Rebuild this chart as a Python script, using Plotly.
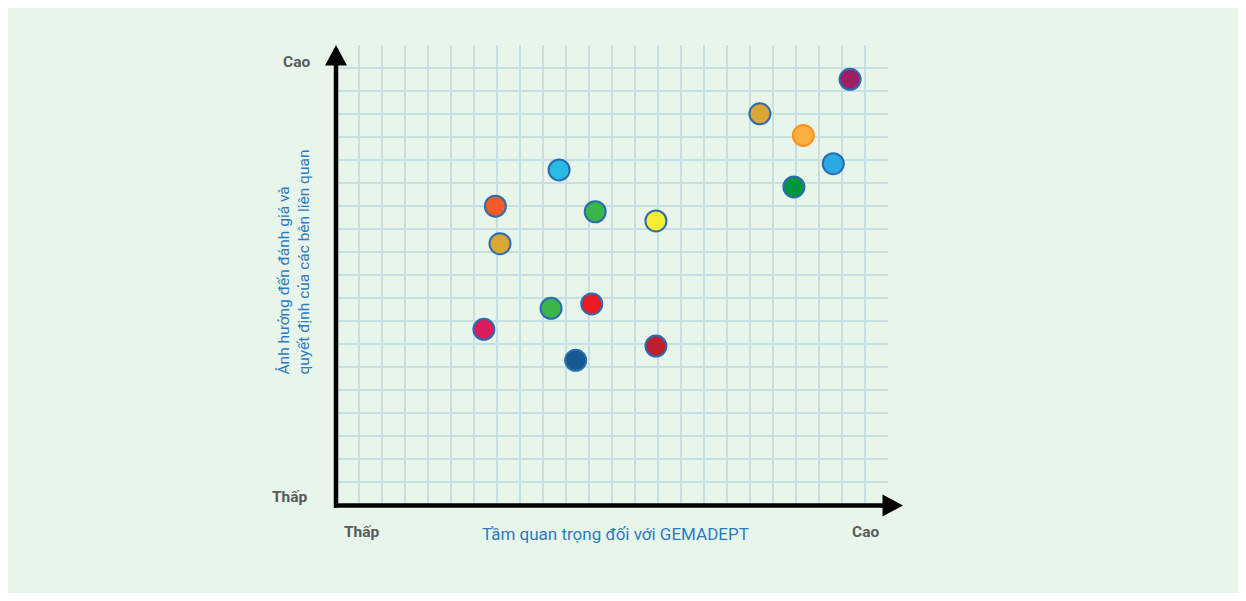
import plotly.graph_objects as go

# Data (grid units: x 0..24, y 0..20)
x_vals = [22.35, 18.43, 20.32, 21.62, 19.91, 9.70, 6.93, 11.27, 13.91, 7.13, 9.35, 11.12, 6.43, 13.91, 10.42]
y_vals = [18.51, 17.01, 16.07, 14.84, 13.83, 14.57, 12.99, 12.75, 12.35, 11.36, 8.55, 8.74, 7.64, 6.91, 6.29]
fill_colors = ["#9E1F63", "#DAA634", "#FBB040", "#29ABE2", "#00953F", "#27BDE2", "#F15A29",
               "#39B54A", "#F9ED32", "#DAA634", "#39B54A", "#ED1C24", "#DA1C5C", "#BE1E2D", "#155A8F"]
edge_colors = ["#2B6CB0"] * 15
edge_colors[2] = "#F7941D"

x_title = "Tầm quan trọng đối với GEMADEPT"
y_title = "Ảnh hưởng đến đánh giá và<br>quyết định của các bên liên quan"
low_label = "Thấp"
high_label = "Cao"

BG = "#E8F5EA"
OFF = 8  # page body margin
W, H = 1230, 585
PW, PH = 552, 460
L, T = 336 - OFF, 45 - OFF
R, B = W - L - PW, H - T - PH


def px(xp):  # page x -> paper
    return (xp - OFF - L) / PW


def py(yp):  # page y -> paper
    return (T + PH - (yp - OFF)) / PH


fig = go.Figure()
fig.add_trace(go.Scatter(
    x=x_vals, y=y_vals, mode="markers",
    marker=dict(size=21, color=fill_colors, line=dict(color=edge_colors, width=2)),
    hoverinfo="skip", showlegend=False, cliponaxis=False,
))

shapes = [
    # axis lines
    dict(type="line", xref="paper", yref="paper", x0=px(336), x1=px(336), y0=py(507.5), y1=py(62),
         line=dict(color="black", width=4.5)),
    dict(type="line", xref="paper", yref="paper", x0=px(334), x1=px(886), y0=py(505.5), y1=py(505.5),
         line=dict(color="black", width=4.5)),
    # arrow heads
    dict(type="path", xref="paper", yref="paper",
         path=f"M {px(325)} {py(65.5)} L {px(336)} {py(45)} L {px(347)} {py(65.5)} Z",
         fillcolor="black", line=dict(width=0)),
    dict(type="path", xref="paper", yref="paper",
         path=f"M {px(882.5)} {py(494.5)} L {px(903)} {py(505.5)} L {px(882.5)} {py(516.5)} Z",
         fillcolor="black", line=dict(width=0)),
]

lab_font = dict(family="Roboto", size=15.5, color="#595A5C")
annotations = [
    dict(text=f"<b>{high_label}</b>", x=px(296), y=py(62), xref="paper", yref="paper",
         showarrow=False, font=lab_font, xanchor="center", yanchor="middle"),
    dict(text=f"<b>{low_label}</b>", x=px(290), y=py(497), xref="paper", yref="paper",
         showarrow=False, font=lab_font, xanchor="center", yanchor="middle"),
    dict(text=f"<b>{low_label}</b>", x=px(362), y=py(532), xref="paper", yref="paper",
         showarrow=False, font=lab_font, xanchor="center", yanchor="middle"),
    dict(text=f"<b>{high_label}</b>", x=px(865), y=py(532), xref="paper", yref="paper",
         showarrow=False, font=lab_font, xanchor="center", yanchor="middle"),
    dict(text=x_title, x=px(615), y=py(534), xref="paper", yref="paper",
         showarrow=False, font=dict(family="Roboto", size=17, color="#2B7BC0"),
         xanchor="center", yanchor="middle"),
    dict(text=y_title, x=px(293), y=py(262.5), xref="paper", yref="paper", textangle=-90,
         align="left", showarrow=False, font=dict(family="Roboto", size=15.5, color="#2B7BC0"),
         xanchor="center", yanchor="middle"),
]

fig.update_layout(
    width=W, height=H,
    margin=dict(l=L, r=R, t=T, b=B, pad=0),
    paper_bgcolor=BG, plot_bgcolor=BG,
    shapes=shapes, annotations=annotations,
    xaxis=dict(range=[0, 24], dtick=1, showgrid=True, gridcolor="#C6DFE3", gridwidth=2,
               showticklabels=False, ticks="", zeroline=False, showline=False, fixedrange=True),
    yaxis=dict(range=[0, 20], dtick=1, showgrid=True, gridcolor="#C6DFE3", gridwidth=2,
               showticklabels=False, ticks="", zeroline=False, showline=False, fixedrange=True),
)

fig.write_html("out.html")
